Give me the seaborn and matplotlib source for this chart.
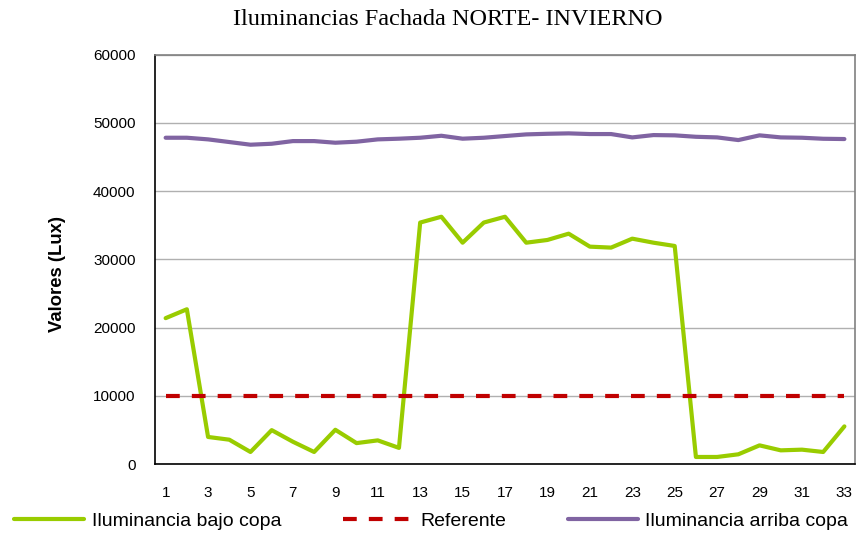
import numpy as np
import pandas as pd
import matplotlib
matplotlib.use("Agg")
import matplotlib.pyplot as plt
import seaborn as sns

categories = list(range(1, 34))
bajo_copa = [21400, 22700, 4000, 3600, 1800, 5000, 3300, 1800, 5050, 3100, 3500,
             2400, 35400, 36250, 32450, 35400, 36250, 32450, 32850, 33770, 31870,
             31730, 33040, 32450, 31970, 1070, 1070, 1460, 2770, 2040, 2140, 1800, 5550]
referente = [10000] * 33
arriba_copa = [47820, 47820, 47580, 47190, 46800, 46940, 47330, 47330, 47090, 47240,
               47580, 47680, 47820, 48110, 47680, 47820, 48070, 48310, 48400, 48460,
               48360, 48360, 47870, 48210, 48170, 47960, 47870, 47480, 48170, 47870,
               47820, 47670, 47630]
series_names = ["Iluminancia bajo copa", "Referente", "Iluminancia arriba copa"]
colors = ["#99CC00", "#C00000", "#8064A2"]
yticks = [0, 10000, 20000, 30000, 40000, 50000, 60000]
xtick_labels = [str(c) for c in categories[::2]]

sns.set_style("white")
plt.rcParams['font.family'] = ['Liberation Sans', 'DejaVu Sans']
plt.rcParams['text.color'] = 'black'
plt.rcParams['axes.labelcolor'] = 'black'
plt.rcParams['xtick.color'] = 'black'
plt.rcParams['ytick.color'] = 'black'

df = pd.DataFrame({"cat": categories,
                   series_names[0]: bajo_copa,
                   series_names[1]: referente,
                   series_names[2]: arriba_copa})

fig = plt.figure(figsize=(8.58, 5.35), dpi=100)
ax = fig.add_axes([0.1807, 0.1322, 0.9965 - 0.1807, 0.898 - 0.1322])

for name, col in zip(series_names, colors):
    if name == "Referente":
        sns.lineplot(data=df, x="cat", y=name, ax=ax, color=col, lw=3,
                     label=name, dashes=False)
        ax.lines[-1].set_dashes((3.3, 2.9))
        ax.lines[-1].set_dash_capstyle("butt")
    else:
        sns.lineplot(data=df, x="cat", y=name, ax=ax, color=col, lw=3,
                     label=name)
        ax.lines[-1].set_solid_joinstyle("round")

ax.set_xlim(0.5, 33.5)
ax.set_ylim(0, 60000)
ax.set_yticks(yticks)
ax.set_yticklabels([str(v) for v in yticks], fontsize=11)
ax.set_xticks(categories[::2])
ax.set_xticklabels(xtick_labels, fontsize=11)
ax.set_xticks(np.arange(0.5, 34, 1.0), minor=True)
ax.tick_params(axis="x", which="major", length=0, pad=16, labelcolor="black")
ax.tick_params(axis="x", which="minor", length=5, width=1, color="black", direction="out")
ax.tick_params(axis="y", which="major", length=5, width=1, color="black", direction="out",
               pad=9, labelcolor="black")
ax.grid(axis="y", color="#B0B0B0", lw=1)
ax.set_axisbelow(True)
for s in ["top", "right"]:
    ax.spines[s].set_color("#808080")
    ax.spines[s].set_linewidth(1.2)
for s in ["left", "bottom"]:
    ax.spines[s].set_color("black")
    ax.spines[s].set_linewidth(1.2)
ax.set_xlabel("")
ax.set_ylabel("Valores (Lux)", fontsize=13.3, fontweight="bold", color="black")
ax.yaxis.set_label_coords(-0.127, 0.464)

fig.text(0.522, 0.963, "Iluminancias Fachada NORTE- INVIERNO", ha="center", va="center",
         fontsize=17.5, color="black", family=["Liberation Serif", "DejaVu Serif"])

ax.get_legend().remove()
handles, labels = ax.get_legend_handles_labels()
fig.legend(handles, labels, loc="center left", bbox_to_anchor=(0.005, 0.026, 0.995, 0.0),
           mode="expand", ncol=3, frameon=False, handlelength=3.6, handletextpad=0.4,
           borderpad=0.0, labelcolor="black", prop={"size": 14})

fig.savefig("out.png", dpi=100)
